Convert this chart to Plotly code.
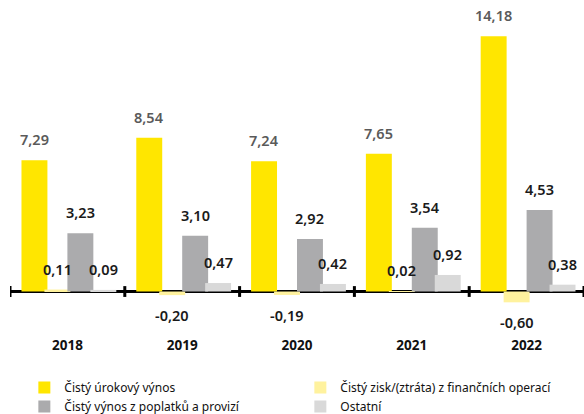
import plotly.graph_objects as go

years = ["2018", "2019", "2020", "2021", "2022"]
series_names = [
    "Čistý úrokový výnos",
    "Čistý zisk/(ztráta) z finančních operací",
    "Čistý výnos z poplatků a provizí",
    "Ostatní",
]
urokovy = [7.29, 8.54, 7.24, 7.65, 14.18]
financni = [0.11, -0.20, -0.19, 0.02, -0.60]
poplatky = [3.23, 3.10, 2.92, 3.54, 4.53]
ostatni = [0.09, 0.47, 0.42, 0.92, 0.38]

series_values = [urokovy, financni, poplatky, ostatni]
colors = ["#FFE600", "#FFF29E", "#ABABAD", "#D9D9D9"]
label_colors = ["#5A5A5A", "#1A1A1A", "#1A1A1A", "#1A1A1A"]
offsets = [-0.40, -0.20, 0.0, 0.20]
bar_w = 0.226

FONT = "Noto Sans"
xs = list(range(len(years)))

fig = go.Figure()
annotations = []
for name, vals, col, off, lc in zip(series_names, series_values, colors, offsets, label_colors):
    fig.add_trace(go.Bar(
        x=xs, y=vals, name=name, marker_color=col, marker_line_width=0,
        width=bar_w, offset=off,
    ))
    for xi, v in zip(xs, vals):
        annotations.append(dict(
            x=xi + off + bar_w / 2, y=v, xref="x", yref="y",
            text=f"{v:.2f}".replace(".", ","), showarrow=False,
            yanchor="middle", xanchor="center", yshift=21 if v >= 0 else -20,
            font=dict(family=FONT, size=14.5, color=lc, weight=600),
        ))

# category boundary tick marks crossing the zero line
shapes = []
for b in range(len(years) + 1):
    shapes.append(dict(type="line", xref="x", yref="y", x0=b - 0.5, x1=b - 0.5,
                       y0=-0.3, y1=0.3, line=dict(color="black", width=3)))

fig.update_layout(
    width=584, height=414,
    margin=dict(l=10, r=0, t=20, b=0, autoexpand=False),
    paper_bgcolor="white", plot_bgcolor="white",
    barmode="overlay",
    showlegend=True,
    legend=dict(orientation="h", x=0.025, xanchor="left", y=0.104, yanchor="top",
                entrywidth=231, entrywidthmode="pixels", tracegroupgap=0,
                font=dict(family=FONT, size=12, color="#111111")),
    annotations=annotations,
    shapes=shapes,
    font=dict(family=FONT),
)
fig.update_xaxes(range=[-0.5, len(years) - 0.5], tickvals=xs, ticktext=years,
                 showgrid=False, showline=False, ticks="", zeroline=False,
                 tickfont=dict(family=FONT, size=13.5, color="#111111", weight=700))
fig.update_yaxes(range=[-2.47, 15.08], domain=[0.198, 1], showgrid=False,
                 showticklabels=False, zeroline=True, zerolinecolor="black",
                 zerolinewidth=3, showline=False)

fig.write_html("out.html")
